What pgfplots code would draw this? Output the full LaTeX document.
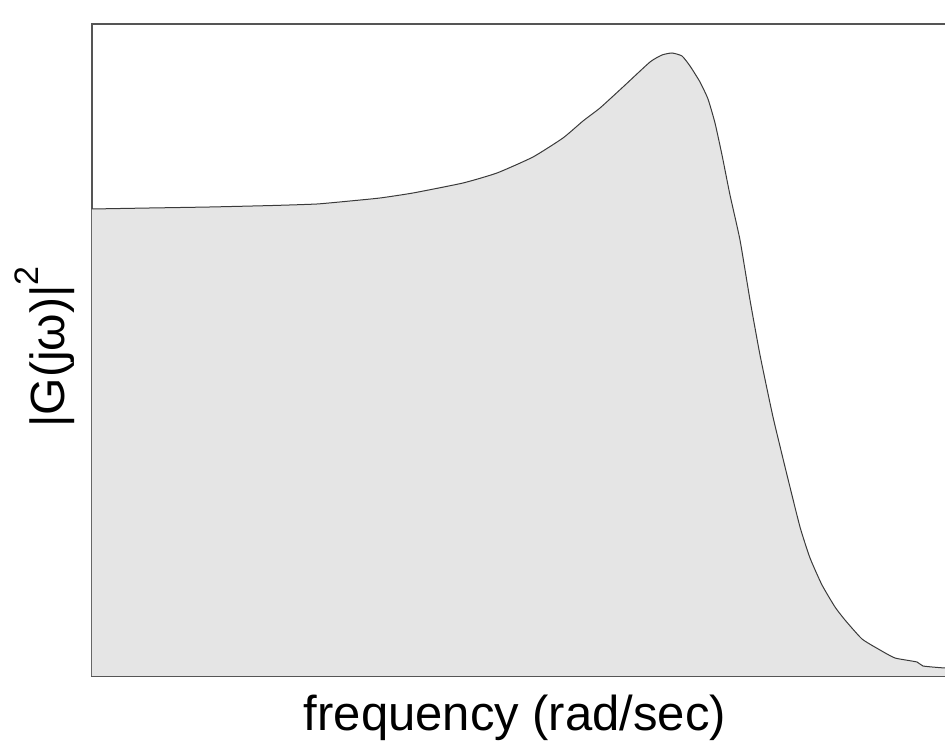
\documentclass[border=0pt]{standalone}
\usepackage{fontspec}
\setmainfont{Liberation Sans}
\usepackage{pgfplots}
\pgfplotsset{compat=1.18}
\definecolor{fillgray}{HTML}{E5E5E5}
\definecolor{linegray}{HTML}{3A3A3A}
\definecolor{boxgray}{HTML}{555555}
\pgfplotstableread{
x y
92 467
150 468
210 469
273 470.5
317 472
350 475
380 478
413 483
463 493
497 503
533 519
563 538
583 555
600 568
623 589
650 614
662 621
672 623
682 620
690 610
700 594
708 577
715 553
722 521
730 481
740 436
750 376
760 321
773 259
787 201
800 149
810 118
822 91
835 69
845 56
862 37
880 26
895 18
917 14
923 10
945 8
965 8
}\curve
\begin{document}
\begin{tikzpicture}
\useasboundingbox (-92pt,-73pt) rectangle (853pt,676pt);
\begin{axis}[
  at={(0,0)}, anchor=south west,
  x=1pt, y=1pt,
  xmin=92, xmax=965, ymin=0, ymax=652,
  xtick=\empty, ytick=\empty,
  axis line style={boxgray, line width=1.5pt},
  clip=true,
]
\addplot[fill=fillgray, draw=none, smooth, tension=0.3] table {\curve} \closedcycle;
\addplot[linegray, line width=1pt, smooth, tension=0.3] table {\curve};
\end{axis}
\node[anchor=base, inner sep=0pt, font=\fontsize{49}{56}\selectfont] at (423pt,-55pt) {frequency (rad/sec)};
\node[anchor=base, rotate=90, inner sep=0pt, font=\fontsize{48}{56}\selectfont] at (-27pt,329pt) {|G(jω)|\raisebox{0.55em}{\fontsize{34}{40}\selectfont 2}};
\end{tikzpicture}
\end{document}
